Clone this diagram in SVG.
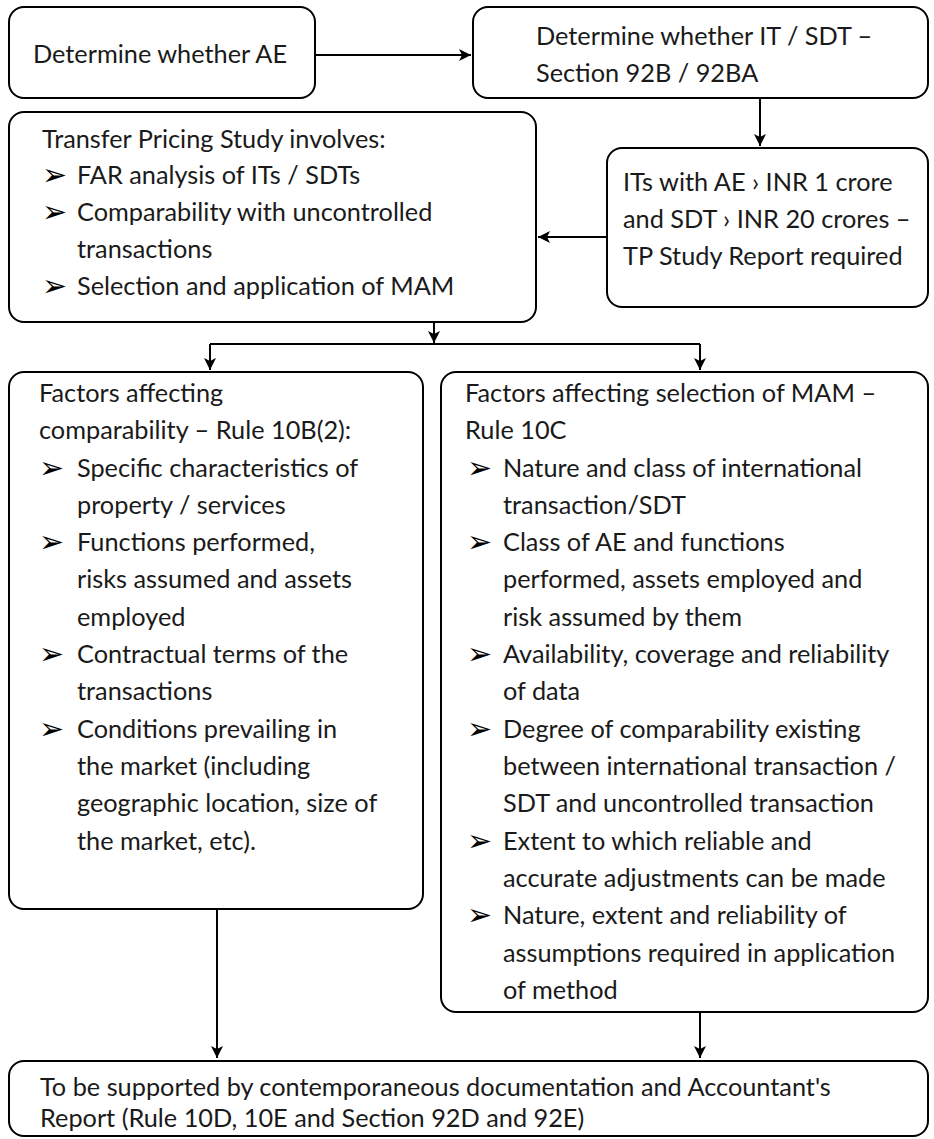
<svg xmlns="http://www.w3.org/2000/svg" width="934" height="1139" viewBox="0 0 934 1139">
<style>
.box{fill:#fff;stroke:#000;stroke-width:2}
.t{font-family:Lato,"Liberation Sans",sans-serif;font-size:25.3px;fill:#1a1a1a}
.b{font-family:"DejaVu Sans",sans-serif;font-size:30px;fill:#000}
.c{fill:none;stroke:#000;stroke-width:2}
</style>
<defs>
<marker id="ah" markerUnits="userSpaceOnUse" markerWidth="14" markerHeight="14" refX="12" refY="6" orient="auto">
<path d="M0,0 L12,6 L0,12 L3,6 z" fill="#000"/>
</marker>
</defs>
<g id="connectors">
<path class="c" d="M315,55 L471,55" marker-end="url(#ah)"/>
<path class="c" d="M760,98 L760,146" marker-end="url(#ah)"/>
<path class="c" d="M607,237 L538,237" marker-end="url(#ah)"/>
<path class="c" d="M434,322 L434,343" marker-end="url(#ah)"/>
<path class="c" d="M210,344 L700,344"/>
<path class="c" d="M210,344 L210,370" marker-end="url(#ah)"/>
<path class="c" d="M700,344 L700,370" marker-end="url(#ah)"/>
<path class="c" d="M217,909 L217,1058" marker-end="url(#ah)"/>
<path class="c" d="M700,1012 L700,1058" marker-end="url(#ah)"/>
</g>
<g id="n1">
<rect class="box" x="9" y="7" width="306" height="91" rx="15"/>
<text class="t" x="33" y="63">Determine whether AE</text>
</g>
<g id="n2">
<rect class="box" x="473" y="7" width="455" height="91" rx="15"/>
<text class="t" x="536" y="45">Determine whether IT / SDT –</text>
<text class="t" x="536" y="82">Section 92B / 92BA</text>
</g>
<g id="n3">
<rect class="box" x="9" y="112" width="527" height="210" rx="15"/>
<text class="t" x="42" y="148">Transfer Pricing Study involves:</text>
<text class="b" x="42" y="185">➢</text><text class="t" x="77" y="184">FAR analysis of ITs / SDTs</text>
<text class="b" x="42" y="222">➢</text><text class="t" x="77" y="221">Comparability with uncontrolled</text>
<text class="t" x="77" y="258">transactions</text>
<text class="b" x="42" y="296">➢</text><text class="t" x="77" y="295">Selection and application of MAM</text>
</g>
<g id="n4">
<rect class="box" x="607" y="148" width="321" height="159" rx="15"/>
<text class="t" x="623" y="191">ITs with AE › INR 1 crore</text>
<text class="t" x="623" y="228">and SDT › INR 20 crores –</text>
<text class="t" x="623" y="265">TP Study Report required</text>
</g>
<g id="n5">
<rect class="box" x="9" y="372" width="414" height="537" rx="15"/>
<text class="t" x="39" y="402">Factors affecting</text>
<text class="t" x="39" y="439">comparability – Rule 10B(2):</text>
<text class="b" x="39" y="478">➢</text><text class="t" x="77" y="477">Specific characteristics of</text>
<text class="t" x="77" y="514">property / services</text>
<text class="b" x="39" y="552">➢</text><text class="t" x="77" y="551">Functions performed,</text>
<text class="t" x="77" y="588">risks assumed and assets</text>
<text class="t" x="77" y="626">employed</text>
<text class="b" x="39" y="664">➢</text><text class="t" x="77" y="663">Contractual terms of the</text>
<text class="t" x="77" y="700">transactions</text>
<text class="b" x="39" y="739">➢</text><text class="t" x="77" y="738">Conditions prevailing in</text>
<text class="t" x="77" y="775">the market (including</text>
<text class="t" x="77" y="812">geographic location, size of</text>
<text class="t" x="77" y="850">the market, etc).</text>
</g>
<g id="n6">
<rect class="box" x="441" y="372" width="487" height="640" rx="15"/>
<text class="t" x="465" y="402">Factors affecting selection of MAM –</text>
<text class="t" x="465" y="439">Rule 10C</text>
<text class="b" x="467" y="478">➢</text><text class="t" x="503" y="477">Nature and class of international</text>
<text class="t" x="503" y="514">transaction/SDT</text>
<text class="b" x="467" y="552">➢</text><text class="t" x="503" y="551">Class of AE and functions</text>
<text class="t" x="503" y="588">performed, assets employed and</text>
<text class="t" x="503" y="626">risk assumed by them</text>
<text class="b" x="467" y="664">➢</text><text class="t" x="503" y="663">Availability, coverage and reliability</text>
<text class="t" x="503" y="700">of data</text>
<text class="b" x="467" y="739">➢</text><text class="t" x="503" y="738">Degree of comparability existing</text>
<text class="t" x="503" y="775">between international transaction /</text>
<text class="t" x="503" y="812">SDT and uncontrolled transaction</text>
<text class="b" x="467" y="851">➢</text><text class="t" x="503" y="850">Extent to which reliable and</text>
<text class="t" x="503" y="887">accurate adjustments can be made</text>
<text class="b" x="467" y="925">➢</text><text class="t" x="503" y="924">Nature, extent and reliability of</text>
<text class="t" x="503" y="962">assumptions required in application</text>
<text class="t" x="503" y="999">of method</text>
</g>
<g id="n7">
<rect class="box" x="9" y="1061" width="919" height="75" rx="15"/>
<text class="t" x="40" y="1096">To be supported by contemporaneous documentation and Accountant's</text>
<text class="t" x="40" y="1127">Report (Rule 10D, 10E and Section 92D and 92E)</text>
</g>
</svg>
